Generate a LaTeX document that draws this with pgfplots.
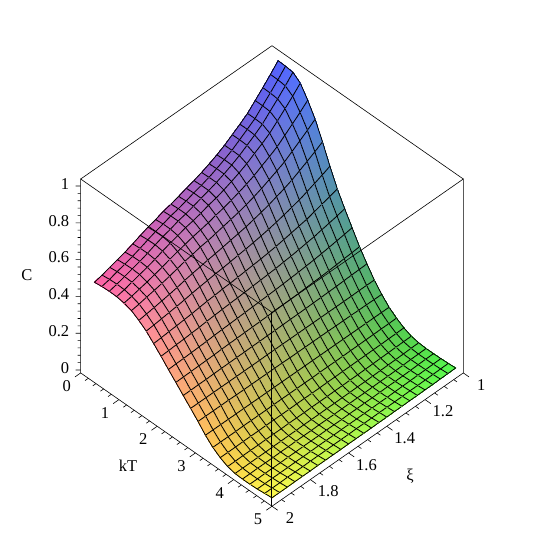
\documentclass[border=0pt]{standalone}
\usepackage{fontspec}
\setmainfont{Liberation Serif}
\usepackage{pgfplots}
\pgfplotsset{compat=1.18}
\newcommand{\lblfont}{\fontsize{16.5}{18}\selectfont}
\begin{document}
\begin{tikzpicture}[x=1pt,y=1pt]
\useasboundingbox (-272,-308.3) rectangle (273,236.7);
\begin{axis}[
    at={(0,0)}, anchor=origin,
    x={(38.26pt,-26.66pt)}, y={(-191.3pt,-133.3pt)}, z={(0pt,184pt)},
    xmin=0, xmax=5, ymin=1, ymax=2, zmin=-0.016, zmax=1.038,
    xtick={0,1,2,3,4,5}, ytick={1,1.2,1.4,1.6,1.8,2}, ztick={0,0.2,0.4,0.6,0.8,1},
    /pgf/number format/assume math mode=true,
    tick label style={font=\lblfont},
    xticklabel style={anchor=center, xshift=-14pt, yshift=-13pt},
    yticklabel style={anchor=center, xshift=18pt, yshift=-12pt},
    zticklabel style={xshift=-8pt, yshift=2pt},
    xtick pos=left, ytick pos=left, ztick pos=left,
    tick style={draw=none},
    major tick length=0pt,
    axis line style={draw=none},
    clip=false,
]
% back edges of the box, behind the surface
\draw[line width=0.6pt] (axis cs:0,2,1.038) -- (axis cs:0,1,1.038) -- (axis cs:5,1,1.038);
\addplot3[surf, shader=faceted interp, faceted color=black, line width=0.8pt,
    z buffer=sort, mesh/rows=25, mesh/cols=25, mesh/ordering=x varies,
    mesh/color input=explicit mathparse,
    point meta={symbolic={0.3+0.7*(y-1),0.33+0.13*x,0.28+0.69*z}},
] table[row sep=\\, header=false,
    x expr={0.36+mod(\coordindex+0.5,25)*0.19333-0.09667},
    y expr={1.04+floor((\coordindex+0.5)/25)*0.04},
    z index=0] {
1.038\\1.036\\1.031\\1.000\\.935\\.860\\.765\\.660\\.565\\.485\\.410\\.335\\.270\\.210\\.160\\.118\\.087\\.062\\.045\\.037\\.034\\.034\\.035\\.037\\.040\\
.992\\.991\\.986\\.958\\.898\\.829\\.740\\.642\\.552\\.475\\.403\\.331\\.268\\.210\\.160\\.118\\.086\\.061\\.044\\.036\\.033\\.033\\.034\\.036\\.039\\
.949\\.948\\.944\\.919\\.864\\.800\\.717\\.625\\.540\\.466\\.397\\.328\\.267\\.210\\.161\\.118\\.086\\.060\\.043\\.034\\.032\\.032\\.033\\.035\\.038\\
.908\\.908\\.905\\.881\\.831\\.772\\.695\\.609\\.528\\.458\\.391\\.324\\.265\\.209\\.161\\.118\\.085\\.059\\.042\\.033\\.030\\.030\\.032\\.034\\.037\\
.867\\.867\\.865\\.844\\.798\\.744\\.673\\.593\\.516\\.449\\.385\\.321\\.263\\.209\\.162\\.118\\.085\\.059\\.041\\.032\\.029\\.029\\.031\\.033\\.037\\
.837\\.838\\.835\\.816\\.774\\.724\\.656\\.581\\.508\\.443\\.380\\.318\\.262\\.209\\.162\\.118\\.084\\.058\\.040\\.031\\.028\\.028\\.030\\.033\\.036\\
.809\\.810\\.808\\.791\\.752\\.705\\.641\\.570\\.500\\.437\\.376\\.316\\.261\\.209\\.162\\.118\\.084\\.058\\.039\\.030\\.028\\.028\\.029\\.032\\.036\\
.781\\.782\\.781\\.765\\.729\\.686\\.626\\.559\\.492\\.431\\.372\\.314\\.260\\.209\\.163\\.118\\.083\\.057\\.038\\.029\\.027\\.027\\.028\\.031\\.035\\
.758\\.760\\.759\\.744\\.711\\.670\\.614\\.550\\.485\\.427\\.369\\.312\\.259\\.209\\.163\\.118\\.083\\.057\\.038\\.029\\.026\\.026\\.028\\.031\\.035\\
.738\\.740\\.739\\.726\\.695\\.656\\.603\\.542\\.479\\.422\\.366\\.310\\.258\\.209\\.163\\.118\\.083\\.056\\.037\\.028\\.026\\.026\\.027\\.031\\.034\\
.720\\.722\\.722\\.709\\.681\\.644\\.593\\.535\\.474\\.419\\.363\\.309\\.258\\.209\\.163\\.118\\.083\\.056\\.037\\.028\\.025\\.025\\.027\\.030\\.034\\
.705\\.707\\.707\\.695\\.668\\.634\\.585\\.529\\.470\\.416\\.361\\.307\\.257\\.209\\.163\\.118\\.082\\.055\\.036\\.027\\.025\\.025\\.026\\.030\\.033\\
.692\\.695\\.694\\.684\\.658\\.625\\.578\\.524\\.466\\.413\\.359\\.306\\.256\\.209\\.163\\.118\\.082\\.055\\.036\\.027\\.024\\.024\\.026\\.030\\.033\\
.677\\.680\\.680\\.670\\.646\\.615\\.570\\.518\\.462\\.410\\.357\\.305\\.256\\.209\\.164\\.118\\.082\\.055\\.036\\.026\\.024\\.024\\.026\\.029\\.033\\
.664\\.667\\.667\\.658\\.636\\.606\\.563\\.513\\.458\\.407\\.355\\.304\\.255\\.209\\.164\\.118\\.082\\.055\\.035\\.026\\.024\\.024\\.025\\.029\\.033\\
.654\\.657\\.657\\.649\\.628\\.600\\.557\\.509\\.456\\.405\\.353\\.303\\.255\\.208\\.164\\.118\\.082\\.054\\.035\\.026\\.023\\.023\\.025\\.029\\.032\\
.638\\.642\\.642\\.635\\.616\\.589\\.549\\.503\\.451\\.402\\.351\\.302\\.254\\.208\\.164\\.118\\.082\\.054\\.035\\.025\\.023\\.023\\.025\\.028\\.032\\
.626\\.629\\.630\\.623\\.605\\.581\\.542\\.498\\.448\\.399\\.349\\.301\\.254\\.208\\.164\\.118\\.081\\.054\\.034\\.025\\.023\\.023\\.024\\.028\\.032\\
.610\\.614\\.615\\.609\\.593\\.570\\.534\\.492\\.443\\.396\\.347\\.300\\.253\\.208\\.164\\.118\\.081\\.054\\.034\\.024\\.022\\.022\\.024\\.028\\.032\\
.593\\.597\\.598\\.593\\.579\\.558\\.524\\.485\\.438\\.392\\.344\\.298\\.253\\.208\\.164\\.118\\.081\\.053\\.034\\.024\\.022\\.022\\.024\\.027\\.031\\
.577\\.582\\.583\\.579\\.567\\.548\\.516\\.479\\.434\\.389\\.342\\.297\\.252\\.208\\.165\\.118\\.081\\.053\\.033\\.023\\.021\\.021\\.023\\.027\\.031\\
.565\\.569\\.571\\.568\\.556\\.539\\.509\\.474\\.430\\.386\\.340\\.296\\.251\\.208\\.165\\.118\\.080\\.053\\.033\\.023\\.021\\.021\\.023\\.027\\.031\\
.552\\.557\\.558\\.556\\.546\\.531\\.502\\.469\\.427\\.384\\.338\\.295\\.251\\.208\\.165\\.118\\.080\\.052\\.033\\.023\\.021\\.021\\.023\\.026\\.030\\
.539\\.544\\.546\\.544\\.536\\.522\\.496\\.464\\.423\\.381\\.337\\.294\\.250\\.208\\.165\\.118\\.080\\.052\\.032\\.022\\.020\\.020\\.022\\.026\\.030\\
.529\\.534\\.536\\.535\\.528\\.515\\.490\\.460\\.420\\.379\\.335\\.293\\.250\\.208\\.165\\.118\\.080\\.052\\.032\\.022\\.020\\.020\\.022\\.026\\.030\\
};
% front edges of the box, over the surface
\draw[line width=0.6pt] (axis cs:0,2,-0.016) -- (axis cs:5,2,-0.016) -- (axis cs:5,1,-0.016);
\draw[line width=0.6pt] (axis cs:0,2,-0.016) -- (axis cs:0,2,1.038) -- (axis cs:5,2,1.038) -- (axis cs:5,1,1.038) -- (axis cs:5,1,-0.016);
\draw[line width=1pt] (axis cs:5,2,-0.016) -- (axis cs:5,2,1.038);
% tick marks on the three labelled edges
\pgfplotsinvokeforeach{0,1,2,3,4,5}{\draw[line width=0.6pt] (axis cs:#1,2,-0.016) -- (axis cs:#1,2.03,-0.016);}
\pgfplotsinvokeforeach{0.2,0.4,0.6,0.8,1.2,1.4,1.6,1.8,2.2,2.4,2.6,2.8,3.2,3.4,3.6,3.8,4.2,4.4,4.6,4.8}{\draw[line width=0.6pt] (axis cs:#1,2,-0.016) -- (axis cs:#1,2.017,-0.016);}
\pgfplotsinvokeforeach{1,1.2,1.4,1.6,1.8,2}{\draw[line width=0.6pt] (axis cs:5,#1,-0.016) -- (axis cs:5.15,#1,-0.016);}
\pgfplotsinvokeforeach{1.05,1.1,1.15,1.25,1.3,1.35,1.45,1.5,1.55,1.65,1.7,1.75,1.85,1.9,1.95}{\draw[line width=0.6pt] (axis cs:5,#1,-0.016) -- (axis cs:5.085,#1,-0.016);}
\pgfplotsinvokeforeach{0,0.2,0.4,0.6,0.8,1}{\draw[line width=0.6pt] (axis cs:0,2,#1) -- (axis cs:-0.065,2.013,#1);}
\pgfplotsinvokeforeach{0.04,0.08,0.12,0.16,0.24,0.28,0.32,0.36,0.44,0.48,0.52,0.56,0.64,0.68,0.72,0.76,0.84,0.88,0.92,0.96}{\draw[line width=0.6pt] (axis cs:0,2,#1) -- (axis cs:-0.04,2.008,#1);}
\node[font=\lblfont] at (axis cs:2.36,2.225,-0.016) {kT};
\node[font=\lblfont] at (axis cs:6.235,1.526,-0.016) {ξ};
\node[font=\lblfont] at (axis cs:0,2.281,0.72) {C};
\end{axis}
\end{tikzpicture}
\end{document}
